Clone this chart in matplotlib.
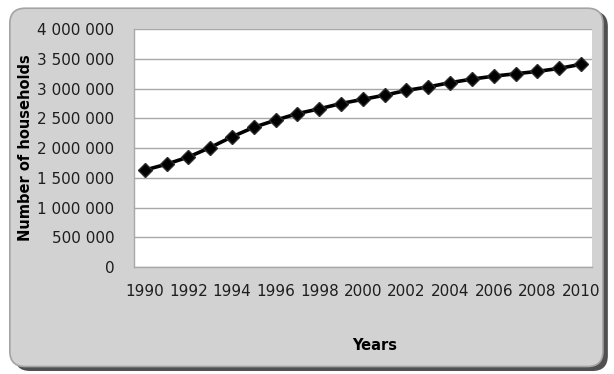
import matplotlib.pyplot as plt
import numpy as np
from matplotlib.patches import FancyBboxPatch
from matplotlib.ticker import FuncFormatter, MultipleLocator

years = list(range(1990, 2011))
households = [1630000, 1730000, 1850000, 2010000, 2190000, 2350000, 2470000,
              2580000, 2660000, 2750000, 2820000, 2890000, 2970000, 3030000,
              3100000, 3160000, 3210000, 3250000, 3290000, 3340000, 3410000]
tick_years = years[::2]

plt.rcParams['font.family'] = ['DejaVu Sans']

fig = plt.figure(figsize=(6.14, 3.74), dpi=100)
fig.patch.set_facecolor('white')

# rounded gray chart area with shadow
asp = 614 / 374
shadow = FancyBboxPatch((0.024, 0.008), 0.966, 0.962, boxstyle='round,pad=0,rounding_size=0.025',
                        mutation_aspect=asp, transform=fig.transFigure,
                        facecolor='#505050', edgecolor='none', zorder=-2)
frame = FancyBboxPatch((0.016, 0.02), 0.966, 0.958, boxstyle='round,pad=0,rounding_size=0.025',
                       mutation_aspect=asp, transform=fig.transFigure,
                       facecolor='#d2d2d2', edgecolor='#a4a4a4', linewidth=1.2, zorder=-1)
fig.patches.append(shadow)
fig.patches.append(frame)

ax = fig.add_axes([0.218, 0.286, 0.746, 0.636])
ax.set_zorder(1)
ax.set_facecolor('white')
x = np.arange(len(years))
ax.plot(x, households, color='black', linewidth=2.6, marker='D', markersize=7.5,
        markerfacecolor='black', markeredgecolor='#2a2a2a', zorder=3)

ax.set_xlim(-0.5, len(years) - 0.5)
ax.set_ylim(0, 4000000)
ax.yaxis.set_major_locator(MultipleLocator(500000))
ax.yaxis.set_major_formatter(FuncFormatter(lambda v, p: f'{int(v):,}'.replace(',', ' ')))
ax.set_xticks([years.index(t) for t in tick_years])
ax.set_xticklabels([str(t) for t in tick_years])
ax.grid(axis='y', color='#a8a8a8', linewidth=1)
ax.set_axisbelow(True)

for s in ['top', 'right']:
    ax.spines[s].set_visible(False)
for s in ['left', 'bottom']:
    ax.spines[s].set_color('#a8a8a8')
    ax.spines[s].set_linewidth(1)

ax.tick_params(length=0, labelsize=11, colors='#1e1e1e')
ax.tick_params(axis='x', pad=12)
ax.tick_params(axis='y', pad=14)

ax.set_ylabel('Number of households', fontsize=10.5, fontweight='bold', labelpad=3)
ax.set_xlabel('Years', fontsize=10.5, fontweight='bold')
ax.xaxis.set_label_coords(0.526, -0.30)

fig.savefig('out.png', dpi=100)
